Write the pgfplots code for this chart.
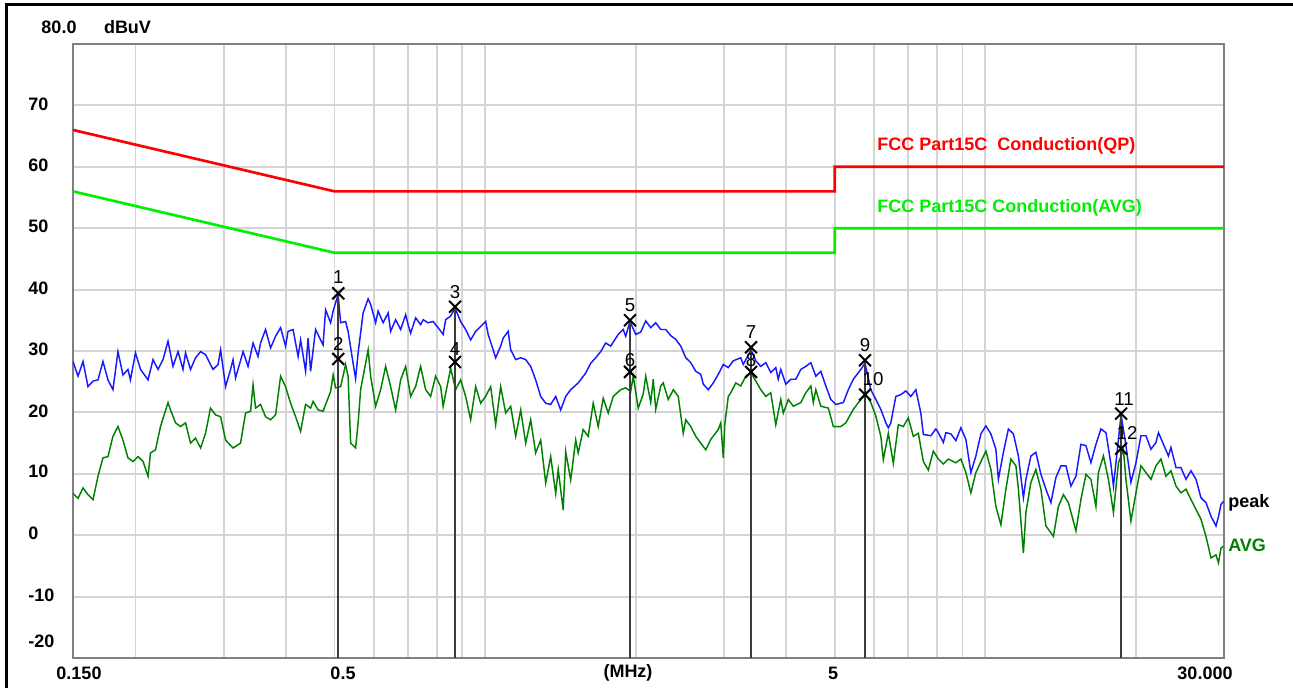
\documentclass[border=0pt]{standalone}
\usepackage{fontspec}
\setmainfont{Liberation Sans}
\usepackage{pgfplots}
\pgfplotsset{compat=1.18}
\usepackage{pgfplotstable}

\definecolor{qpred}{RGB}{255,0,0}
\definecolor{avglim}{RGB}{0,240,0}
\definecolor{peakblue}{RGB}{25,25,255}
\definecolor{avggreen}{RGB}{0,128,0}
\definecolor{gridgray}{RGB}{212,212,212}
\definecolor{axisgray}{RGB}{128,128,128}
\definecolor{mkline}{RGB}{60,60,60}

\newcommand{\lbl}{\fontsize{13.5}{16}\selectfont\bfseries}
\newcommand{\mkf}{\fontsize{14}{16}\selectfont}

\pgfplotstableread{
f dB
0.1500 28.3
0.1535 25.9
0.1571 28.3
0.1607 24.2
0.1645 25.1
0.1683 25.3
0.1722 28.3
0.1762 25.3
0.1803 23.7
0.1845 29.9
0.1888 26.1
0.1932 27.0
0.1954 25.3
0.2000 29.7
0.2047 27.0
0.2119 25.3
0.2168 28.6
0.2219 27.0
0.2270 28.6
0.2323 31.6
0.2377 27.5
0.2433 29.9
0.2489 27.0
0.2518 29.7
0.2577 27.0
0.2637 28.9
0.2699 29.9
0.2761 29.4
0.2858 27.0
0.2925 27.8
0.2959 30.2
0.3028 24.2
0.3098 27.0
0.3134 28.6
0.3170 25.6
0.3282 29.9
0.3358 27.5
0.3436 31.3
0.3516 29.1
0.3557 31.3
0.3640 33.5
0.3725 30.5
0.3812 32.4
0.3901 33.8
0.3991 30.8
0.4037 33.2
0.4131 33.5
0.4228 29.1
0.4277 31.8
0.4376 26.7
0.4427 32.1
0.4478 26.7
0.4582 33.5
0.4689 31.8
0.4743 31.0
0.4798 36.7
0.4910 34.6
0.4967 36.5
0.5083 39.2
0.5142 34.6
0.5261 34.8
0.5322 33.2
0.5446 28.0
0.5509 25.5
0.5573 29.7
0.5703 36.2
0.5836 38.5
0.5904 37.6
0.6041 34.6
0.6111 36.5
0.6253 34.6
0.6399 36.2
0.6473 33.2
0.6624 35.1
0.6778 33.5
0.6936 35.9
0.7016 34.3
0.7097 32.9
0.7262 35.4
0.7432 34.3
0.7518 35.1
0.7693 34.6
0.7872 34.8
0.8055 33.8
0.8243 32.7
0.8339 35.1
0.8533 35.7
0.8705 37.0
0.8935 34.8
0.9143 33.5
0.9356 31.8
0.9574 33.2
0.9797 34.0
1.0025 34.8
1.0141 32.7
1.0497 28.9
1.0742 30.8
1.0867 32.1
1.1120 33.2
1.1249 30.2
1.1511 28.6
1.1779 28.9
1.2053 28.6
1.2333 27.5
1.2620 25.3
1.2915 22.6
1.3216 21.5
1.3524 21.3
1.3839 22.6
1.4161 20.4
1.4491 22.6
1.4829 23.7
1.5349 24.8
1.5889 26.4
1.6259 28.0
1.6639 28.9
1.7025 29.9
1.7423 31.3
1.7828 30.8
1.8455 32.7
1.8884 33.5
1.9103 32.4
1.9485 34.8
2.0004 32.7
2.0470 33.1
2.0946 34.9
2.1434 33.8
2.1933 34.6
2.2444 33.5
2.2967 33.5
2.3502 32.5
2.4050 31.9
2.4609 30.8
2.5183 28.9
2.5769 28.1
2.6369 26.7
2.6983 26.2
2.7296 24.6
2.7932 23.7
2.8583 24.8
2.9247 26.2
2.9930 27.8
3.0626 27.3
3.1340 28.4
3.2442 28.9
3.2817 27.8
3.4010 30.2
3.4763 28.4
3.5571 27.5
3.6399 28.1
3.7248 26.5
3.8116 27.3
3.8556 25.4
3.9003 27.0
3.9913 24.6
4.0841 25.4
4.1792 25.4
4.2766 27.0
4.3762 27.5
4.4781 28.1
4.5825 25.9
4.6893 26.7
4.7985 24.3
4.9103 22.1
5.0247 21.3
5.2013 21.6
5.3222 23.7
5.4462 25.4
5.6377 27.0
5.7480 28.0
5.9035 23.7
6.0410 22.1
6.1816 20.5
6.3256 18.3
6.3987 17.5
6.4729 18.3
6.6238 22.6
6.7779 22.9
6.9357 23.5
7.0975 22.6
7.2630 23.7
7.4319 19.9
7.5179 16.4
7.7821 16.2
7.9635 17.3
8.0555 16.7
8.2430 15.1
8.3386 16.7
8.5330 16.5
8.7317 15.4
8.9351 17.5
9.1431 15.6
9.3560 10.2
9.5742 12.9
9.7971 16.5
10.025 17.8
10.259 16.5
10.497 14.0
10.619 9.1
10.867 13.5
11.120 17.3
11.379 16.5
11.644 12.9
11.915 6.1
12.053 9.1
12.333 12.9
12.620 13.5
12.915 9.9
13.216 7.5
13.524 5.3
13.839 9.4
14.161 11.3
14.491 11.3
14.829 8.0
15.174 9.6
15.527 14.8
15.889 14.6
16.259 11.8
16.639 14.8
17.025 17.3
17.423 16.7
17.828 11.6
18.035 8.0
18.455 15.6
18.680 19.6
19.103 14.6
19.547 8.6
20.004 11.8
20.470 16.2
20.946 16.2
21.434 14.0
21.933 15.1
22.187 16.7
22.704 14.8
23.232 12.9
23.502 14.3
24.050 11.0
24.609 11.0
25.183 9.1
25.769 10.5
26.369 9.1
26.983 6.1
27.612 5.3
28.255 3.1
28.914 1.5
29.247 3.0
29.586 5.0
29.930 5.5
}\peakdata

\pgfplotstableread{
f dB
0.1500 6.8
0.1535 6.0
0.1571 7.7
0.1607 6.6
0.1645 5.8
0.1683 9.6
0.1722 12.6
0.1762 12.8
0.1803 16.1
0.1845 17.7
0.1888 15.5
0.1932 12.6
0.1977 12.0
0.2024 12.8
0.2071 12.0
0.2119 9.6
0.2143 13.4
0.2193 13.9
0.2244 17.7
0.2323 21.6
0.2350 20.4
0.2405 18.3
0.2461 17.7
0.2518 18.3
0.2577 15.0
0.2637 15.8
0.2699 14.2
0.2761 16.6
0.2825 20.7
0.2891 19.6
0.2959 19.3
0.3028 15.5
0.3134 14.2
0.3244 15.0
0.3320 19.9
0.3397 20.2
0.3436 24.5
0.3476 20.7
0.3557 21.3
0.3640 19.3
0.3725 18.8
0.3812 19.6
0.3901 25.9
0.3991 24.2
0.4084 21.5
0.4179 19.3
0.4277 16.9
0.4376 21.3
0.4478 20.7
0.4530 21.8
0.4635 20.4
0.4743 20.2
0.4910 23.4
0.4967 26.1
0.5025 24.0
0.5142 24.2
0.5261 27.8
0.5322 25.9
0.5384 15.0
0.5509 14.2
0.5573 18.3
0.5638 23.7
0.5836 30.2
0.5904 25.9
0.6041 21.0
0.6182 23.7
0.6326 27.5
0.6473 24.2
0.6624 20.4
0.6778 25.3
0.6936 27.5
0.7097 22.6
0.7262 24.2
0.7432 27.5
0.7605 23.7
0.7782 22.6
0.7963 25.9
0.8148 24.2
0.8243 21.0
0.8533 27.2
0.8732 23.7
0.8935 25.3
0.9143 22.6
0.9356 18.8
0.9574 24.2
0.9797 21.5
1.0025 22.6
1.0258 24.2
1.0497 18.0
1.0742 24.2
1.0993 19.9
1.1249 21.0
1.1511 16.1
1.1779 20.4
1.2053 15.0
1.2333 18.8
1.2620 13.4
1.2915 15.5
1.3216 8.5
1.3524 12.8
1.3839 6.8
1.3999 10.7
1.4325 4.1
1.4491 13.6
1.4829 9.0
1.5174 15.5
1.5349 13.4
1.5707 17.2
1.6073 16.1
1.6448 21.5
1.6830 17.7
1.7223 22.3
1.7624 19.9
1.8035 22.6
1.8669 23.7
1.9103 24.0
1.9547 23.4
1.9775 25.9
2.0235 20.7
2.0706 23.0
2.0946 25.9
2.1434 21.6
2.1681 25.4
2.1933 20.5
2.2444 24.3
2.2704 24.8
2.3232 22.1
2.3774 23.7
2.4327 22.6
2.4894 16.6
2.5183 18.8
2.5769 17.7
2.6369 16.1
2.6983 15.0
2.7612 13.9
2.8255 15.6
2.9247 17.2
2.9587 18.3
2.9930 12.6
3.0138 18.0
3.0626 22.6
3.0981 23.2
3.1703 24.8
3.2442 24.3
3.3198 25.9
3.3971 26.5
3.4763 25.1
3.5571 23.7
3.6399 22.6
3.7248 23.2
3.8116 18.0
3.9003 22.1
3.9455 19.9
4.0373 22.1
4.1313 21.0
4.2766 21.6
4.3762 23.2
4.4781 24.3
4.5300 21.6
4.5825 23.7
4.6893 21.0
4.8540 20.7
4.9671 17.7
5.1418 17.7
5.2613 18.3
5.4462 20.5
5.6377 22.1
5.7690 22.9
5.9035 21.6
6.0410 19.4
6.1816 16.1
6.2531 12.3
6.3987 16.6
6.5478 11.7
6.7002 18.0
6.8564 17.7
7.0161 19.1
7.1795 16.1
7.3467 16.6
7.5179 12.0
7.6929 10.6
7.8722 13.7
8.0555 12.4
8.2430 11.6
8.4351 12.4
8.7317 11.8
8.9351 12.4
9.1431 10.2
9.3560 6.9
9.5742 10.2
10.025 13.7
10.259 10.7
10.497 4.7
10.742 1.7
10.993 7.5
11.249 12.4
11.511 11.3
11.644 7.5
11.915 -2.9
12.053 3.7
12.333 8.6
12.620 10.7
12.915 7.5
13.216 1.5
13.524 0.4
13.680 -0.2
13.999 4.7
14.325 6.6
14.659 5.3
15.174 0.7
15.527 5.8
15.889 9.9
16.259 9.1
16.639 4.7
16.830 10.2
17.223 12.9
17.624 9.1
18.035 3.7
18.455 11.8
18.884 13.9
19.103 9.1
19.547 2.3
20.004 6.9
20.470 11.3
20.946 10.2
21.434 9.1
21.933 11.3
22.444 12.4
22.967 9.6
23.502 10.5
24.050 8.0
24.609 6.9
25.183 7.5
25.769 5.8
26.369 4.2
26.983 2.6
27.612 -0.2
28.255 -3.7
28.914 -3.2
29.247 -4.5
29.586 -2.1
29.930 -1.8
}\avgdata

\pgfplotstableread{
f dB
0.5088 39.4
0.5088 28.7
0.8705 37.2
0.8705 28.2
1.9485 35.0
1.9485 26.6
3.4010 30.6
3.4010 26.6
5.7480 28.5
5.7480 22.9
18.680 19.8
18.680 14.1
}\markers

\begin{document}
\begin{tikzpicture}
\path[use as bounding box] (0,0) rectangle (969.75pt,515.25pt);
\begin{axis}[
  at={(54.75pt,21.75pt)}, anchor=south west,
  scale only axis, width=863.25pt, height=460.5pt,
  xmode=log, log basis x=10,
  xmin=0.15, xmax=30, ymin=-20, ymax=80,
  xtick={0.2,0.3,0.4,0.5,0.6,0.7,0.8,0.9,1,2,3,4,5,6,7,8,9,10,20},
  ytick={-10,0,10,20,30,40,50,60,70},
  xminorticks=false, yminorticks=false,
  xticklabel={\mbox{}}, yticklabel={\mbox{}},
  major tick length=0pt,
  tick style={draw=none},
  grid=major,
  major grid style={line width=1.4pt, color=gridgray},
  axis line style={line width=2pt, color=axisgray},
]
\addplot[qpred, line width=2pt] coordinates {(0.15,66) (0.5,56) (5,56) (5,60) (30,60)};
\addplot[avglim, line width=2pt] coordinates {(0.15,56) (0.5,46) (5,46) (5,50) (30,50)};
\addplot[peakblue, line width=1.1pt] table[x=f,y=dB] {\peakdata};
\addplot[avggreen, line width=1.1pt] table[x=f,y=dB] {\avgdata};
\addplot[mkline, line width=1.5pt] coordinates {(0.5088,-20) (0.5088,39.4)};
\addplot[mkline, line width=1.5pt] coordinates {(0.8705,-20) (0.8705,37.2)};
\addplot[mkline, line width=1.5pt] coordinates {(1.9485,-20) (1.9485,35.0)};
\addplot[mkline, line width=1.5pt] coordinates {(3.4010,-20) (3.4010,30.6)};
\addplot[mkline, line width=1.5pt] coordinates {(5.7480,-20) (5.7480,28.5)};
\addplot[mkline, line width=1.5pt] coordinates {(18.680,-20) (18.680,19.8)};
\addplot[only marks, mark=x, mark size=6.3pt, line width=1.5pt, black] table[x=f,y=dB] {\markers};
\node[font=\mkf, yshift=12pt] at (axis cs:0.5088,39.4) {1};
\node[font=\mkf, yshift=11pt] at (axis cs:0.5088,28.7) {2};
\node[font=\mkf, yshift=11pt] at (axis cs:0.8705,37.2) {3};
\node[font=\mkf, yshift=9.5pt] at (axis cs:0.8705,28.2) {4};
\node[font=\mkf, yshift=11pt] at (axis cs:1.9485,35.0) {5};
\node[font=\mkf, yshift=9pt] at (axis cs:1.9485,26.6) {6};
\node[font=\mkf, yshift=11.5pt] at (axis cs:3.4010,30.6) {7};
\node[font=\mkf, yshift=9pt] at (axis cs:3.4010,26.6) {8};
\node[font=\mkf, yshift=11.5pt] at (axis cs:5.7480,28.5) {9};
\node[font=\mkf, yshift=11.5pt, xshift=6pt] at (axis cs:5.7480,22.9) {10};
\node[font=\mkf, yshift=11pt, xshift=2.25pt] at (axis cs:18.680,19.8) {11};
\node[font=\mkf, yshift=11.5pt, xshift=4.5pt] at (axis cs:18.680,14.1) {12};
\end{axis}
\begin{scope}[x=0.75pt,y=-0.75pt,shift={(0pt,515.25pt)}]
  \draw[line width=2pt, black] (6.3,720) -- (6.3,4.7) -- (1320,4.7);
  \node[font=\lbl] at (59,27) {80.0};
  \node[font=\lbl] at (127.5,27) {dBuV};
  \node[font=\lbl, anchor=west, inner sep=0pt] at (28,104) {70};
  \node[font=\lbl, anchor=west, inner sep=0pt] at (28,165.3) {60};
  \node[font=\lbl, anchor=west, inner sep=0pt] at (28,226.7) {50};
  \node[font=\lbl, anchor=west, inner sep=0pt] at (28,288.5) {40};
  \node[font=\lbl, anchor=west, inner sep=0pt] at (28,349.8) {30};
  \node[font=\lbl, anchor=west, inner sep=0pt] at (28,411) {20};
  \node[font=\lbl, anchor=west, inner sep=0pt] at (28,471.5) {10};
  \node[font=\lbl, anchor=west, inner sep=0pt] at (28,533.5) {0};
  \node[font=\lbl, anchor=west, inner sep=0pt] at (28,595) {-10};
  \node[font=\lbl, anchor=west, inner sep=0pt] at (28,641) {-20};
  \node[font=\lbl] at (79,673) {0.150};
  \node[font=\lbl] at (343,673) {0.5};
  \node[font=\lbl] at (628,673) {(MHz)};
  \node[font=\lbl] at (833,673) {5};
  \node[font=\lbl] at (1205,673) {30.000};
  \node[font=\lbl, anchor=west, inner sep=0pt, text=qpred] at (877,146) {FCC Part15C\ \ Conduction(QP)};
  \node[font=\lbl, anchor=west, inner sep=0pt, text=avglim] at (877,207.5) {FCC Part15C Conduction(AVG)};
  \node[font=\lbl, anchor=west, inner sep=0pt] at (1228,502.5) {peak};
  \node[font=\lbl, anchor=west, inner sep=0pt, text=avggreen] at (1228,545.5) {AVG};
\end{scope}
\end{tikzpicture}
\end{document}
